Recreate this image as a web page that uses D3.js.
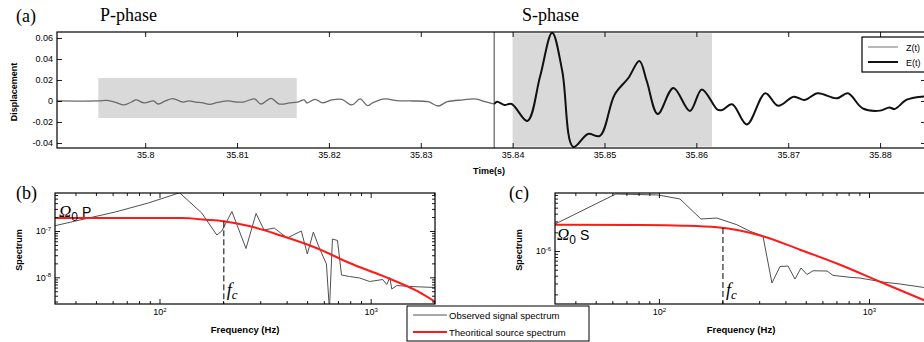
<!DOCTYPE html>
<html>
<head>
<meta charset="utf-8">
<script src="https://cdn.jsdelivr.net/npm/d3@7"></script>
<style>
body { margin: 0; background: #fff; }
svg { display: block; font-family: "Liberation Sans", Arial, sans-serif; }
.axis path { display: none; }
.axis line { stroke: #000; stroke-width: 0.9; }
.axis text { font-size: 9px; fill: #000; }
</style>
</head>
<body>
<svg width="924" height="342"></svg>
<script>
// (a) displacement trace: Z(t) until the S pick, E(t) after it
var timeZ = [35.7904, 35.7949, 35.7958, 35.7967, 35.7977, 35.7985, 35.7990, 35.7999, 35.8009, 35.8014,
    35.8022, 35.8030, 35.8041, 35.8048, 35.8055, 35.8063, 35.8070, 35.8079, 35.8091, 35.8099,
    35.8107, 35.8119, 35.8126, 35.8137, 35.8146, 35.8157, 35.8166, 35.8173, 35.8176, 35.8185,
    35.8193, 35.8203, 35.8214, 35.8225, 35.8234, 35.8242, 35.8248, 35.8261, 35.8274, 35.8288,
    35.8308, 35.8319, 35.8329, 35.8346, 35.8359, 35.8370, 35.8380];
var dispZ = [0, 0, 0.0005, -0.001, -0.0038, -0.001, 0.001, -0.0019, 0, -0.0029,
    0, 0.0022, -0.001, 0, -0.001, -0.0019, -0.0033, -0.0014, 0, -0.001,
    -0.001, 0.0019, -0.0029, 0.0024, -0.0029, -0.0019, -0.001, 0.001, -0.0019, 0.0016,
    -0.0019, 0.001, 0.0016, -0.0038, 0.0019, -0.0045, -0.0016, 0.0019, 0.0003, 0,
    -0.0007, -0.0048, -0.0007, 0.001, 0.0019, -0.0007, -0.0029];
var timeE = [35.8380, 35.8383, 35.8391, 35.8399, 35.8416, 35.8430, 35.8443, 35.8454, 35.8466, 35.8482,
    35.8495, 35.8511, 35.8526, 35.8538, 35.8546, 35.8558, 35.8575, 35.8593, 35.8606, 35.8623,
    35.8628, 35.8639, 35.8655, 35.8675, 35.8689, 35.8706, 35.8718, 35.8732, 35.8753, 35.8765,
    35.8781, 35.8800, 35.8810, 35.8816, 35.8829, 35.8845, 35.8860];
var dispE = [-0.0029, -0.0007, -0.0038, -0.0029, -0.0190, 0.0238, 0.0650, 0.0286, -0.0438, -0.0314,
    -0.0333, 0.0060, 0.0219, 0.0381, 0.0190, -0.0124, 0.0124, -0.0095, 0.0110, -0.0083,
    -0.0086, -0.0031, -0.0224, 0.0073, -0.0046, 0.0041, 0.0010, 0.0073, 0.0026, 0.0073,
    -0.0070, -0.0092, -0.0062, -0.0076, 0.0012, 0.0041, 0.0040];
var timeTicks = [35.80, 35.81, 35.82, 35.83, 35.84, 35.85, 35.86, 35.87, 35.88];
var dispTicks = [-0.04, -0.02, 0, 0.02, 0.04, 0.06];
var timeDomain = [35.7904, 35.8850];
var dispDomain = [-0.0448, 0.0657];
// windows: [t0, t1, low, high]
var pWindow = [35.7949, 35.8165, -0.0162, 0.0219];
var sWindow = [35.8400, 35.8617, -0.0435, 0.0645];
var sPick = 35.8380;

// (b) P-wave spectrum
var freqObsP = [32.0, 42.5, 61.7, 88.6, 124.5, 158.5, 186.8, 197.3, 220.2, 256.8,
    286.6, 312.7, 349.2, 402.5, 469.4, 501.2, 535.4, 559.4, 590.8, 617.4,
    637.9, 659.2, 696.6, 727.8, 794.3, 886.4, 989, 1141, 1192, 1232,
    1259, 1330, 1534, 2017];
var specObsP = [1.30e-7, 1.75e-7, 2.57e-7, 4.03e-7, 6.7e-7, 2.45e-7, 8.2e-8, 1.0e-7, 2.64e-7, 4.19e-8,
    2.39e-7, 1.05e-7, 1.16e-7, 7.06e-8, 1.0e-7, 3.18e-8, 9.5e-8, 5.5e-8, 3.03e-8, 1.94e-8,
    2e-9, 6.71e-8, 6.23e-8, 1.12e-8, 1.04e-8, 9.66e-9, 8.11e-9, 8.95e-9, 6.98e-9, 9.9e-9,
    5.58e-9, 6.65e-9, 6.33e-9, 6.03e-9];
var freqSrcP = [32.0, 80, 127.3, 165.6, 201.7, 265.3, 381, 553, 794, 1141, 1656, 2017];
var specSrcP = [1.91e-7, 1.91e-7, 1.90e-7, 1.75e-7, 1.62e-7, 1.28e-7, 7.8e-8, 4.3e-8, 2.04e-8, 1.07e-8, 5.06e-9, 2.97e-9];
var fcP = [201.7, 1.62e-7];
var specDomainP = [2.65e-9, 6.62e-7];

// (c) S-wave spectrum
var freqObsS = [32.0, 62.4, 98.9, 125.9, 158.5, 188.9, 235.2, 271.3, 312.7, 345.2,
    376.9, 411.5, 444.3, 474.6, 506.8, 541.2, 631, 674, 812, 906,
    1166, 1405, 1807, 2017];
var specObsS = [2.72e-6, 8.3e-6, 8.0e-6, 6.9e-6, 3.28e-6, 3.4e-6, 2.65e-6, 2.08e-6, 1.75e-6, 3.05e-7,
    5.62e-7, 5.73e-7, 3.53e-7, 5.32e-7, 4.18e-7, 4.81e-7, 4.76e-7, 4.05e-7, 3.77e-7, 3.67e-7,
    3.16e-7, 2.94e-7, 2.6e-7, 2.53e-7];
var freqSrcS = [32.0, 81.2, 130, 188.9, 312.7, 469.4, 727.8, 1166, 1807, 2017];
var specSrcS = [2.65e-6, 2.62e-6, 2.56e-6, 2.41e-6, 1.73e-6, 1.05e-6, 6.01e-7, 3.05e-7, 1.64e-7, 1.40e-7];
var fcS = [201.7, 2.35e-6];
var specDomainS = [1.40e-7, 8.61e-6];

var freqDomain = [32, 2017];
var freqMajor = [100, 1000];

var svg = d3.select("svg");
var serif = "Liberation Serif, Times New Roman, serif";

function zip(a, b) { return a.map(function (v, i) { return [v, b[i]]; }); }

function clip(id, x0, y0, w, h) {
    svg.append("clipPath").attr("id", id)
        .append("rect").attr("x", x0).attr("y", y0).attr("width", w).attr("height", h);
    return "url(#" + id + ")";
}

// plot frame, ticks go inward on all four sides (MATLAB look)
function box(left, top, right, bottom) {
    svg.append("rect")
        .attr("x", left).attr("y", top)
        .attr("width", right - left).attr("height", bottom - top)
        .attr("fill", "none").attr("stroke", "#000").attr("stroke-width", 1.2);
}

function superTen(sel) {
    sel.selectAll("text").each(function (d) {
        var t = d3.select(this).text("");
        t.append("tspan").text("10");
        t.append("tspan").attr("dy", "-0.55em").attr("font-size", "6px")
            .text(String(Math.round(Math.log10(d))));
    });
}

/* ---------- panel (a) ---------- */
var xa = d3.scaleLinear().domain(timeDomain).range([57, 926]);
var ya = d3.scaleLinear().domain(dispDomain).range([148, 32]);
var clipA = clip("clipA", 57, 32, 869, 116);

svg.append("rect")
    .attr("x", xa(pWindow[0])).attr("y", ya(pWindow[3]))
    .attr("width", xa(pWindow[1]) - xa(pWindow[0]))
    .attr("height", ya(pWindow[2]) - ya(pWindow[3]))
    .attr("fill", "#d9d9d9");
svg.append("rect")
    .attr("x", xa(sWindow[0])).attr("y", ya(sWindow[3]))
    .attr("width", xa(sWindow[1]) - xa(sWindow[0]))
    .attr("height", ya(sWindow[2]) - ya(sWindow[3]))
    .attr("fill", "#d9d9d9");

svg.append("line")
    .attr("x1", xa(sPick)).attr("x2", xa(sPick))
    .attr("y1", 32).attr("y2", 148)
    .attr("stroke", "#808080").attr("stroke-width", 1.5);

var wave = d3.line()
    .x(function (d) { return xa(d[0]); })
    .y(function (d) { return ya(d[1]); })
    .curve(d3.curveCatmullRom);

svg.append("path").datum(zip(timeZ, dispZ))
    .attr("clip-path", clipA)
    .attr("d", wave).attr("fill", "none")
    .attr("stroke", "#6a6a6a").attr("stroke-width", 1.3);
svg.append("path").datum(zip(timeE, dispE))
    .attr("clip-path", clipA)
    .attr("d", wave).attr("fill", "none")
    .attr("stroke", "#111").attr("stroke-width", 2);

svg.append("g").attr("class", "axis").attr("transform", "translate(0,148)")
    .call(d3.axisBottom(xa).tickValues(timeTicks).tickSize(-5).tickPadding(4)
        .tickFormat(function (d) { return String(d); }));
svg.append("g").attr("class", "axis").attr("transform", "translate(0,32)")
    .call(d3.axisTop(xa).tickValues(timeTicks).tickSize(-5).tickFormat(""));
svg.append("g").attr("class", "axis").attr("transform", "translate(57,0)")
    .call(d3.axisLeft(ya).tickValues(dispTicks).tickSize(-5).tickPadding(4)
        .tickFormat(function (d) { return String(d); }));
svg.append("g").attr("class", "axis").attr("transform", "translate(926,0)")
    .call(d3.axisRight(ya).tickValues(dispTicks).tickSize(-5).tickFormat(""));
box(57, 32, 926, 148);

// legend of (a), cut by the right edge like the original
var legA = svg.append("g").attr("transform", "translate(862,37)");
legA.append("rect").attr("width", 80).attr("height", 35)
    .attr("fill", "#fff").attr("stroke", "#000").attr("stroke-width", 1.2);
legA.append("line").attr("x1", 6).attr("x2", 36).attr("y1", 10).attr("y2", 10)
    .attr("stroke", "#8a8a8a").attr("stroke-width", 1.2);
legA.append("line").attr("x1", 6).attr("x2", 36).attr("y1", 25).attr("y2", 25)
    .attr("stroke", "#111").attr("stroke-width", 2);
legA.append("text").attr("x", 44).attr("y", 13.5).attr("font-size", 9).text("Z(t)");
legA.append("text").attr("x", 44).attr("y", 28.5).attr("font-size", 9).text("E(t)");

svg.append("text").attr("transform", "translate(17,92) rotate(-90)")
    .attr("text-anchor", "middle").attr("font-size", 9).attr("font-weight", "bold")
    .text("Displacement");
svg.append("text").attr("x", 489).attr("y", 174)
    .attr("text-anchor", "middle").attr("font-size", 9).attr("font-weight", "bold")
    .text("Time(s)");

svg.append("text").attr("x", 16).attr("y", 22).attr("font-family", serif).attr("font-size", 18).text("(a)");
svg.append("text").attr("x", 100).attr("y", 21).attr("font-family", serif).attr("font-size", 18).text("P-phase");
svg.append("text").attr("x", 522).attr("y", 21).attr("font-family", serif).attr("font-size", 18).text("S-phase");

/* ---------- spectra (b) and (c) ---------- */
function spectrum(cfg) {
    var x = d3.scaleLog().domain(freqDomain).range([cfg.left, cfg.right]);
    var y = d3.scaleLog().domain(cfg.yDomain).range([304, 193]);
    var cp = clip(cfg.id, cfg.left, 193, cfg.right - cfg.left, 111);

    var line = d3.line()
        .x(function (d) { return x(d[0]); })
        .y(function (d) { return y(d[1]); });

    svg.append("path").datum(zip(cfg.fObs, cfg.sObs))
        .attr("clip-path", cp)
        .attr("d", line).attr("fill", "none")
        .attr("stroke", "#505050").attr("stroke-width", 1);
    svg.append("path").datum(zip(cfg.fSrc, cfg.sSrc))
        .attr("clip-path", cp)
        .attr("d", line.curve(d3.curveMonotoneX)).attr("fill", "none")
        .attr("stroke", "#ff1a1a").attr("stroke-width", 2);

    svg.append("line")
        .attr("x1", x(cfg.fc[0])).attr("x2", x(cfg.fc[0]))
        .attr("y1", y(cfg.fc[1])).attr("y2", 304)
        .attr("stroke", "#000").attr("stroke-width", 1).attr("stroke-dasharray", "6,3");

    var minorX = x.ticks().filter(function (d) { return freqMajor.indexOf(d) < 0; });
    var majorY = y.ticks().filter(function (d) {
        var e = Math.log10(d); return Math.abs(e - Math.round(e)) < 1e-6;
    });
    var minorY = y.ticks().filter(function (d) { return majorY.indexOf(d) < 0; });

    var gb = svg.append("g").attr("class", "axis").attr("transform", "translate(0,304)");
    gb.call(d3.axisBottom(x).tickValues(freqMajor).tickSize(-5).tickPadding(5));
    superTen(gb);
    svg.append("g").attr("class", "axis").attr("transform", "translate(0,304)")
        .call(d3.axisBottom(x).tickValues(minorX).tickSize(-3).tickFormat(""));
    svg.append("g").attr("class", "axis").attr("transform", "translate(0,193)")
        .call(d3.axisTop(x).tickValues(freqMajor).tickSize(-5).tickFormat(""));
    svg.append("g").attr("class", "axis").attr("transform", "translate(0,193)")
        .call(d3.axisTop(x).tickValues(minorX).tickSize(-3).tickFormat(""));

    var gl = svg.append("g").attr("class", "axis").attr("transform", "translate(" + cfg.left + ",0)");
    gl.call(d3.axisLeft(y).tickValues(majorY).tickSize(-5).tickPadding(4));
    superTen(gl);
    svg.append("g").attr("class", "axis").attr("transform", "translate(" + cfg.left + ",0)")
        .call(d3.axisLeft(y).tickValues(minorY).tickSize(-3).tickFormat(""));
    svg.append("g").attr("class", "axis").attr("transform", "translate(" + cfg.right + ",0)")
        .call(d3.axisRight(y).tickValues(majorY).tickSize(-5).tickFormat(""));
    svg.append("g").attr("class", "axis").attr("transform", "translate(" + cfg.right + ",0)")
        .call(d3.axisRight(y).tickValues(minorY).tickSize(-3).tickFormat(""));
    box(cfg.left, 193, cfg.right, 304);

    svg.append("text").attr("transform", "translate(" + (cfg.left - 33) + ",250) rotate(-90)")
        .attr("text-anchor", "middle").attr("font-size", 9).attr("font-weight", "bold")
        .text("Spectrum");
    svg.append("text").attr("x", cfg.labelX).attr("y", 333)
        .attr("text-anchor", "middle").attr("font-size", 9.5).attr("font-weight", "bold")
        .text("Frequency (Hz)");

    // Omega_0 label
    var om = svg.append("text").attr("x", cfg.omX).attr("y", cfg.omY);
    om.append("tspan").attr("font-family", serif).attr("font-style", "italic")
        .attr("font-size", 17).text("\u03A9");
    om.append("tspan").attr("font-size", 12).attr("dy", 4).text("0");
    om.append("tspan").attr("font-size", 14).attr("dy", -4).attr("dx", 4).text(cfg.phase);

    // corner frequency label
    var fl = svg.append("text").attr("x", x(cfg.fc[0]) + 3).attr("y", 296)
        .attr("font-family", serif).attr("font-style", "italic");
    fl.append("tspan").attr("font-size", 18).text("f");
    fl.append("tspan").attr("font-size", 13).attr("dy", 3).text("c");

    svg.append("text").attr("x", cfg.tagX).attr("y", 199)
        .attr("font-family", serif).attr("font-size", 18).text(cfg.tag);
}

spectrum({ id: "clipB", left: 55, right: 435, yDomain: specDomainP,
    fObs: freqObsP, sObs: specObsP, fSrc: freqSrcP, sSrc: specSrcP, fc: fcP,
    labelX: 245, omX: 59, omY: 217, phase: "P", tagX: 16, tag: "(b)" });
spectrum({ id: "clipC", left: 555, right: 933, yDomain: specDomainS,
    fObs: freqObsS, sObs: specObsS, fSrc: freqSrcS, sSrc: specSrcS, fc: fcS,
    labelX: 741, omX: 557, omY: 240, phase: "S", tagX: 509, tag: "(c)" });

// shared legend under the spectra
var leg = svg.append("g").attr("transform", "translate(407,306)");
leg.append("rect").attr("width", 182).attr("height", 35)
    .attr("fill", "#fff").attr("stroke", "#000").attr("stroke-width", 1);
leg.append("line").attr("x1", 6).attr("x2", 40).attr("y1", 9).attr("y2", 9)
    .attr("stroke", "#505050").attr("stroke-width", 1);
leg.append("line").attr("x1", 6).attr("x2", 40).attr("y1", 26).attr("y2", 26)
    .attr("stroke", "#ff1a1a").attr("stroke-width", 2);
leg.append("text").attr("x", 42).attr("y", 12.5).attr("font-size", 9.5).text("Observed signal spectrum");
leg.append("text").attr("x", 42).attr("y", 29.5).attr("font-size", 9.5).text("Theoritical source spectrum");
</script>
</body>
</html>
